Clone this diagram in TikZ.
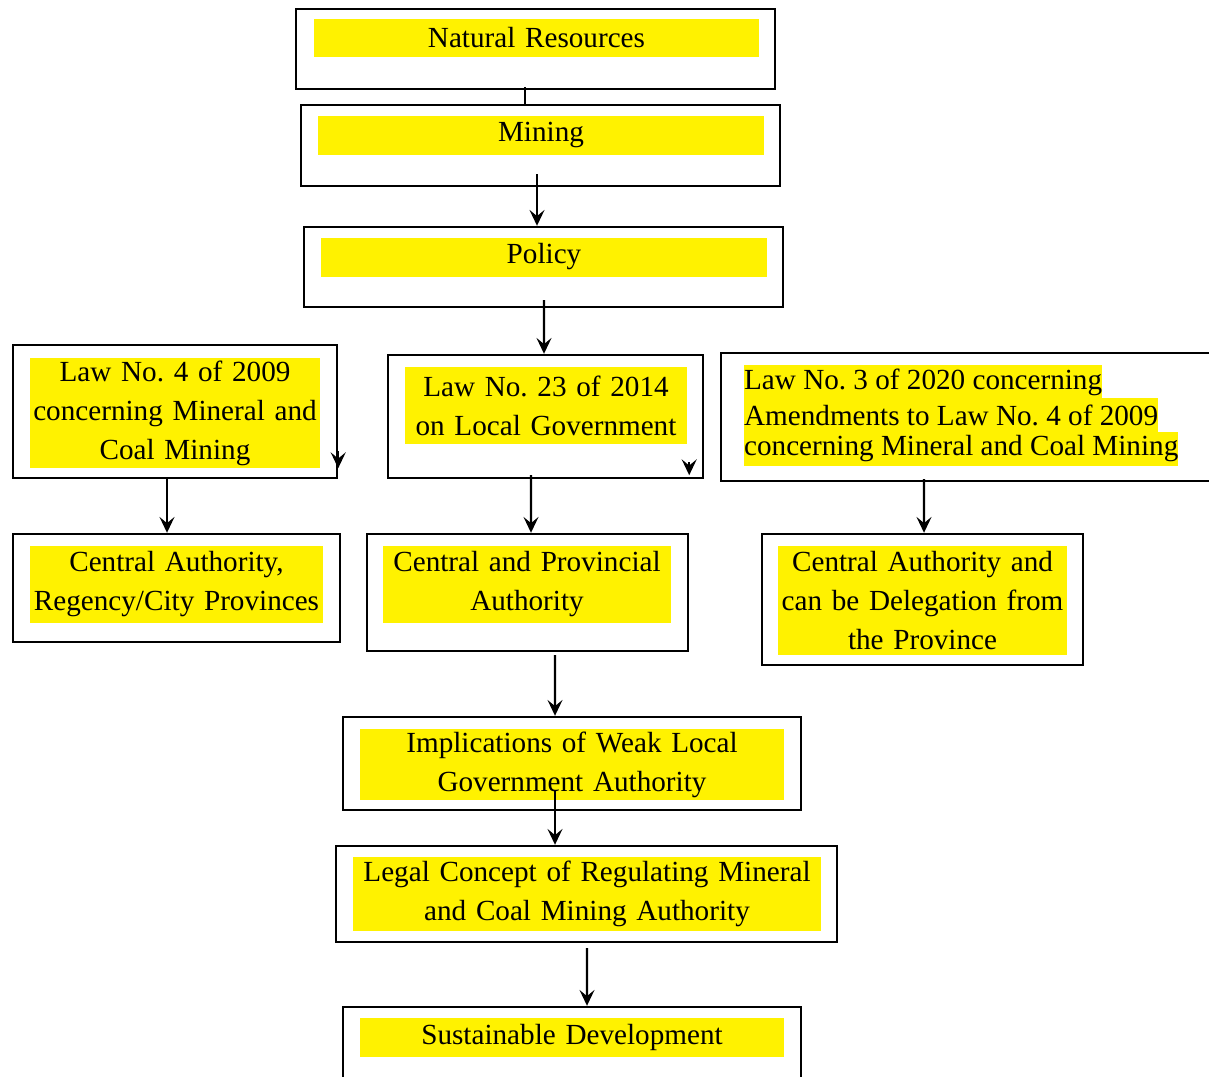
\documentclass[tikz,border=0pt]{standalone}
\usepackage{fontspec}
\setmainfont{Liberation Serif}
\frenchspacing
\usetikzlibrary{arrows.meta, calc}

\begin{document}
\begin{tikzpicture}[
                x=0.02cm,
                y=-0.02cm,
                ->,
                > ={Stealth[length=9pt, width=8.5pt, inset=3.5pt]},
                line width=1.3pt,
                box/.style={draw, line width=1.4pt, inner sep=0pt},
                hl/.style={fill=yellow, inner sep=0pt, align=center,
                    font=\fontsize{16.6}{22.2}\selectfont},
                hlline/.style={fill=yellow, inner sep=0pt, anchor=west,
                    minimum height=0.67cm, font=\fontsize{16.6}{22.2}\selectfont},
            ]
            \useasboundingbox (0,0) rectangle (1209,1076);
            \clip (0,0) rectangle (1209,1076);

            % frames
            \node[box, minimum width=9.58cm, minimum height=1.6cm]  (res)    at (535.5,49)   {};
            \node[box, minimum width=9.58cm, minimum height=1.62cm] (mining) at (540.5,145.5) {};
            \node[box, minimum width=9.58cm, minimum height=1.6cm]  (policy) at (543.5,267)  {};
            \node[box, minimum width=6.48cm, minimum height=2.66cm] (law4)   at (175,411.5)  {};
            \node[box, minimum width=6.3cm,  minimum height=2.46cm] (law23)  at (545.5,416.5) {};
            \node[box, minimum width=9.88cm, minimum height=2.56cm] (law3)   at (968,417)    {};
            \node[box, minimum width=6.54cm, minimum height=2.16cm] (auth1)  at (176.5,588)  {};
            \node[box, minimum width=6.42cm, minimum height=2.34cm] (auth2)  at (527.5,592.5) {};
            \node[box, minimum width=6.42cm, minimum height=2.62cm] (auth3)  at (922.5,599.5) {};
            \node[box, minimum width=9.16cm, minimum height=1.86cm] (impl)   at (572,763.5)  {};
            \node[box, minimum width=10.02cm, minimum height=1.92cm] (legal) at (586.5,894)  {};
            \node[box, minimum width=9.16cm, minimum height=1.66cm] (sust)   at (572,1048.5) {};

            % highlighted texts
            \node[hl, text width=8.9cm,  minimum height=0.76cm] (resT)    at (536.5,38)   {Natural Resources};
            \node[hl, text width=8.92cm, minimum height=0.78cm] (miningT) at (541,135)    {Mining};
            \node[hl, text width=8.92cm, minimum height=0.78cm] (policyT) at (544,257)    {Policy};
            \node[hl, text width=5.8cm,  minimum height=2.2cm]  (law4T)   at (175,413)
                {Law No. 4 of 2009\\concerning Mineral and\\Coal Mining};
            \node[hl, text width=5.64cm, minimum height=1.54cm] (law23T)  at (546,405.5)
                {Law No. 23 of 2014\\on Local Government};
            \node[hlline] (law3A) at (743,382) {Law No. 3 of 2020 concerning};
            \node[hlline] (law3B) at (743,415) {Amendments to Law No. 4 of 2009};
            \node[hlline] (law3C) at (743,449) {concerning Mineral and Coal Mining};
            \node[hl, text width=5.86cm, minimum height=1.54cm] (auth1T)  at (176.5,584.5)
                {Central Authority,\\Regency/City Provinces};
            \node[hl, text width=5.76cm, minimum height=1.54cm] (auth2T)  at (527,584.5)
                {Central and Provincial\\Authority};
            \node[hl, text width=5.78cm, minimum height=2.18cm] (auth3T)  at (922.5,600.5)
                {Central Authority and\\can be Delegation from\\the Province};
            \node[hl, text width=8.48cm, minimum height=1.42cm] (implT)   at (572,764.5)
                {Implications of Weak Local\\Government Authority};
            \node[hl, text width=9.36cm, minimum height=1.48cm] (legalT)  at (587,894)
                {Legal Concept of Regulating Mineral\\and Coal Mining Authority};
            \node[hl, text width=8.48cm, minimum height=0.78cm] (sustT)   at (572,1037.5)
                {Sustainable Development};

            % connectors
            \draw[-] ($(res.south)+(-10.5,-3)$) -- ($(mining.north)+(-15.5,0)$);
            \draw ($(mining.south)+(-3.5,-13)$) -- ($(policy.north)+(-6.5,0)$);
            \draw ($(policy.south)+(0.5,-8)$) -- ($(law23.north)+(-1.5,0)$);
            \draw ($(law4.south)+(-8,0)$) -- ($(auth1.north)+(-9.5,0)$);
            \draw ($(law23.south)+(-14.5,-4)$) -- ($(auth2.north)+(3.5,0)$);
            \draw ($(law3.south)+(-44,-3)$) -- ($(auth3.north)+(1.5,0)$);
            \draw ($(auth2.south)+(27.5,3)$) -- ($(impl.north)+(-17,0)$);
            \draw ($(impl.south)+(-17,-20)$) -- ($(legal.north)+(-31.5,0)$);
            \draw ($(legal.south)+(0.5,5)$) -- ($(sust.north)+(15,0)$);

            % stray tips
            \draw ($(law4.south east)+(0,-28)$) -- ($(law4.south east)+(0,-11)$);
            \draw ($(law23.south east)+(-15,-17)$) -- ($(law23.south east)+(-15,-4)$);
        \end{tikzpicture}
\end{document}
